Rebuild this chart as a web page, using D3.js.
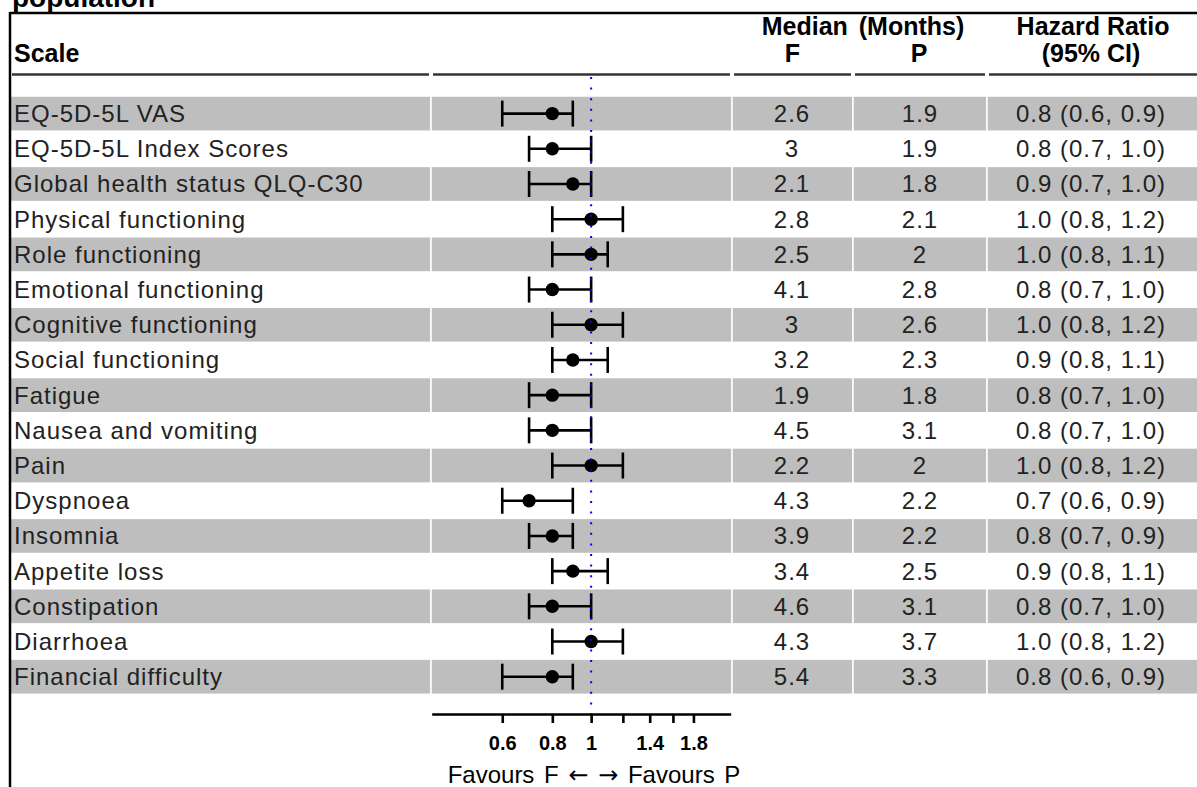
<!DOCTYPE html>
<html>
<head>
<meta charset="utf-8">
<script src="https://cdn.jsdelivr.net/npm/d3@7"></script>
<style>
  html, body { margin: 0; padding: 0; background: #fff; }
  svg { display: block; font-family: "Liberation Sans", Arial, Helvetica, sans-serif; }
</style>
</head>
<body>
<svg id="chart" width="1197" height="787"></svg>
<script>
// Quality-of-life scales and time-to-deterioration results
const scales = [
  "EQ-5D-5L VAS", "EQ-5D-5L Index Scores", "Global health status QLQ-C30",
  "Physical functioning", "Role functioning", "Emotional functioning",
  "Cognitive functioning", "Social functioning", "Fatigue",
  "Nausea and vomiting", "Pain", "Dyspnoea", "Insomnia", "Appetite loss",
  "Constipation", "Diarrhoea", "Financial difficulty"
];
const medianF = [2.6, 3, 2.1, 2.8, 2.5, 4.1, 3, 3.2, 1.9, 4.5, 2.2, 4.3, 3.9, 3.4, 4.6, 4.3, 5.4];
const medianP = [1.9, 1.9, 1.8, 2.1, 2, 2.8, 2.6, 2.3, 1.8, 3.1, 2, 2.2, 2.2, 2.5, 3.1, 3.7, 3.3];
const hazard  = [0.8, 0.8, 0.9, 1.0, 1.0, 0.8, 1.0, 0.9, 0.8, 0.8, 1.0, 0.7, 0.8, 0.9, 0.8, 1.0, 0.8];
const ciLow   = [0.6, 0.7, 0.7, 0.8, 0.8, 0.7, 0.8, 0.8, 0.7, 0.7, 0.8, 0.6, 0.7, 0.8, 0.7, 0.8, 0.6];
const ciHigh  = [0.9, 1.0, 1.0, 1.2, 1.1, 1.0, 1.2, 1.1, 1.0, 1.0, 1.2, 0.9, 0.9, 1.1, 1.0, 1.2, 0.9];
const tickValues = [0.6, 0.8, 1, 1.2, 1.4, 1.6, 1.8];
const tickLabels = ["0.6", "0.8", "1", "", "1.4", "", "1.8"];
const refValue = 1;
const xLabelParts = ["Favours F ", "\u2190", " ", "\u2192", " Favours P"];
const titleText = "population";

const rows = scales.map((s, i) => ({
  scale: s, f: medianF[i], p: medianP[i],
  hr: hazard[i], lo: ciLow[i], hi: ciHigh[i], i
}));

const svg = d3.select("#chart");
const fmt = d3.format(".1f");

// Table columns (left/right edges)
const cols = {
  scale: [10, 431],
  plot:  [431, 732],
  f:     [732, 853],
  p:     [853, 987],
  hr:    [987, 1199]
};

const y = d3.scaleBand().domain(d3.range(rows.length)).range([96, 694.3]).padding(0);
const x = d3.scaleLog().domain([0.4, 2.23]).range([431.7, 730.7]);

// Alternating row backgrounds with white cell borders
const bg = svg.append("g");
rows.filter(r => r.i % 2 === 0).forEach(r => {
  Object.values(cols).forEach(([a, b]) => {
    bg.append("rect")
      .attr("x", a).attr("y", y(r.i))
      .attr("width", b - a).attr("height", y.bandwidth())
      .attr("fill", "#bebebe")
      .attr("stroke", "#ffffff").attr("stroke-width", 1.5);
  });
});

// Title (top line clipped by page edge)
svg.append("text")
  .attr("x", 12).attr("y", 7)
  .attr("font-size", 28).attr("font-weight", "bold")
  .text(titleText);

// Frame lines
svg.append("line").attr("x1", 10).attr("x2", 1197).attr("y1", 13).attr("y2", 13)
  .attr("stroke", "#000").attr("stroke-width", 2.5);
svg.append("line").attr("x1", 10).attr("x2", 10).attr("y1", 12).attr("y2", 787)
  .attr("stroke", "#000").attr("stroke-width", 2.5);

// Header
const head = svg.append("g").attr("font-weight", "bold").attr("font-size", 25).attr("fill", "#000");
head.append("text").attr("x", 14).attr("y", 62).text("Scale");
head.append("text").attr("x", 863).attr("y", 35).attr("text-anchor", "middle")
  .attr("word-spacing", 4).text("Median (Months)");
head.append("text").attr("x", (cols.f[0] + cols.f[1]) / 2).attr("y", 62).attr("text-anchor", "middle").text("F");
head.append("text").attr("x", (cols.p[0] + cols.p[1]) / 2 - 1).attr("y", 62).attr("text-anchor", "middle").text("P");
head.append("text").attr("x", 1093).attr("y", 35).attr("text-anchor", "middle").text("Hazard Ratio");
head.append("text").attr("x", 1091).attr("y", 62).attr("text-anchor", "middle").text("(95% CI)");

// Header underlines, one per column
Object.values(cols).forEach(([a, b]) => {
  svg.append("line")
    .attr("x1", a + 2).attr("x2", Math.min(b - 2, 1197)).attr("y1", 74.5).attr("y2", 74.5)
    .attr("stroke", "#333").attr("stroke-width", 2.5);
});

// Body text
const body = svg.append("g").attr("font-size", 24).attr("fill", "#222")
  .attr("letter-spacing", 1);
const base = i => y(i) + y.bandwidth() / 2 + 8.5;
rows.forEach(r => {
  body.append("text").attr("x", 14).attr("y", base(r.i)).text(r.scale);
  body.append("text").attr("x", 792).attr("y", base(r.i)).attr("text-anchor", "middle").text(String(r.f));
  body.append("text").attr("x", 920).attr("y", base(r.i)).attr("text-anchor", "middle").text(String(r.p));
  body.append("text").attr("x", 1091).attr("y", base(r.i)).attr("text-anchor", "middle")
    .text(`${fmt(r.hr)} (${fmt(r.lo)}, ${fmt(r.hi)})`);
});

// Confidence intervals and point estimates
const ci = svg.append("g").attr("stroke", "#000").attr("stroke-width", 2.6);
rows.forEach(r => {
  const cy = y(r.i) + y.bandwidth() / 2;
  ci.append("line").attr("x1", x(r.lo)).attr("x2", x(r.hi)).attr("y1", cy).attr("y2", cy);
  ci.append("line").attr("x1", x(r.lo)).attr("x2", x(r.lo)).attr("y1", cy - 13).attr("y2", cy + 13);
  ci.append("line").attr("x1", x(r.hi)).attr("x2", x(r.hi)).attr("y1", cy - 13).attr("y2", cy + 13);
});
svg.append("g").selectAll("circle").data(rows).join("circle")
  .attr("cx", d => x(d.hr)).attr("cy", d => y(d.i) + y.bandwidth() / 2)
  .attr("r", 6.7).attr("fill", "#000");

// X axis
const axis = d3.axisBottom(x).tickValues(tickValues)
  .tickFormat((d, i) => tickLabels[i]).tickSize(9).tickSizeOuter(0).tickPadding(13);
const ax = svg.append("g").attr("transform", "translate(0,714)").call(axis);
ax.select(".domain").attr("stroke", "#000").attr("stroke-width", 2.6);
ax.selectAll(".tick line").attr("stroke", "#000").attr("stroke-width", 2.6);
ax.selectAll(".tick text").attr("font-size", 20).attr("font-weight", "bold")
  .attr("font-family", "'Liberation Sans', Arial, sans-serif").attr("fill", "#000");

// Axis caption with arrows
const xl = svg.append("text").attr("x", 594).attr("y", 783).attr("text-anchor", "middle")
  .attr("font-size", 24).attr("fill", "#000").attr("word-spacing", 3);
xLabelParts.forEach(t => {
  const ts = xl.append("tspan").text(t);
  if (t === "\u2190" || t === "\u2192") ts.attr("font-family", "'DejaVu Sans', sans-serif");
});

// Reference line at HR = 1
svg.append("line")
  .attr("x1", x(refValue)).attr("x2", x(refValue)).attr("y1", 77).attr("y2", 714)
  .attr("stroke", "#0000ff").attr("stroke-width", 2)
  .attr("stroke-dasharray", "2 8.6");
</script>
</body>
</html>
